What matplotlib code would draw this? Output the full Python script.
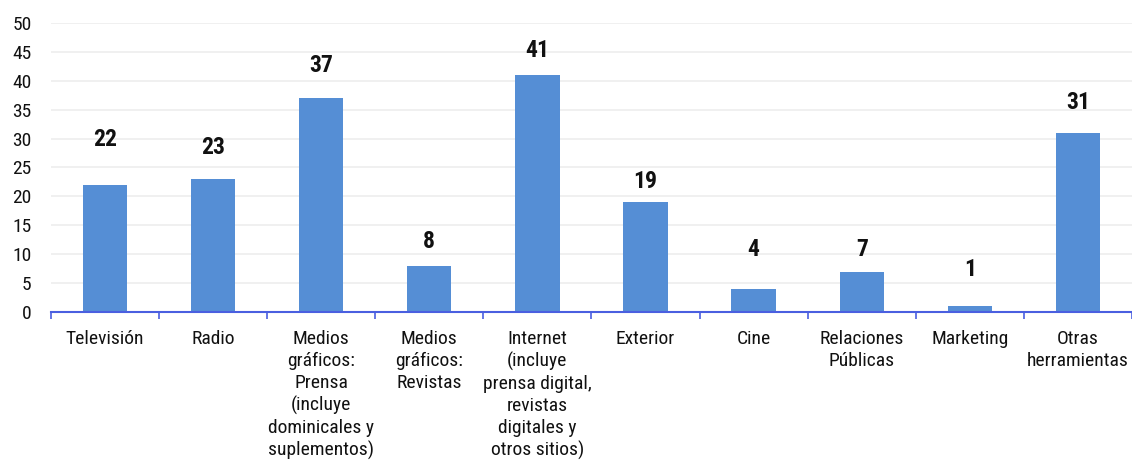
import numpy as np
import matplotlib.pyplot as plt

categorias = ['Televisión', 'Radio',
              'Medios\ngráficos:\nPrensa\n(incluye\ndominicales y\nsuplementos)',
              'Medios\ngráficos:\nRevistas',
              'Internet\n(incluye\nprensa digital,\nrevistas\ndigitales y\notros sitios)',
              'Exterior', 'Cine', 'Relaciones\nPúblicas', 'Marketing',
              'Otras\nherramientas']
valores = [22, 23, 37, 8, 41, 19, 4, 7, 1, 31]
# separación de cada etiqueta sobre su barra (px)
desplaz = [45, 32, 33, 24, 25, 21, 39, 22, 37, 30]

plt.rcParams['font.family'] = ['Liberation Sans Narrow', 'Arial Narrow',
                               'Roboto Condensed', 'Liberation Sans', 'DejaVu Sans']

fig = plt.figure(figsize=(11.32, 4.71), dpi=100)
ax = fig.add_axes([0.045, 0.3376, 0.955, 0.6136])

x = np.arange(len(valores))
ax.bar(x, valores, width=0.41, color='#558ED5', zorder=3)

for xi, v, d in zip(x, valores, desplaz):
    ax.annotate(str(v), (xi, v), xytext=(0, d * 0.72), textcoords='offset points',
                ha='center', va='center', fontsize=17, fontweight='bold',
                color='#111111')

ax.set_xlim(-0.5, len(valores) - 0.5)
ax.set_ylim(0, 50)
ax.set_yticks(range(0, 51, 5))
ax.yaxis.grid(True, color='#EEEEEE', linewidth=1.2, zorder=0)
ax.tick_params(axis='y', length=0, pad=14, labelsize=14, labelcolor='#111111')

ax.set_xticks(np.arange(-0.5, len(valores), 1))
ax.set_xticklabels([])
ax.set_xticks(x, minor=True)
ax.set_xticklabels(categorias, minor=True, fontsize=14, color='#111111',
                   va='top', ha='center', linespacing=1.27)
ax.tick_params(axis='x', which='major', length=5, color='#4A5FE0', width=1.2)
ax.tick_params(axis='x', which='minor', length=0, pad=13)

for s in ['top', 'right', 'left']:
    ax.spines[s].set_visible(False)
ax.spines['bottom'].set_color('#4A5FE0')
ax.spines['bottom'].set_linewidth(1.5)
ax.spines['bottom'].set_zorder(4)

fig.savefig('out.png', dpi=100)
